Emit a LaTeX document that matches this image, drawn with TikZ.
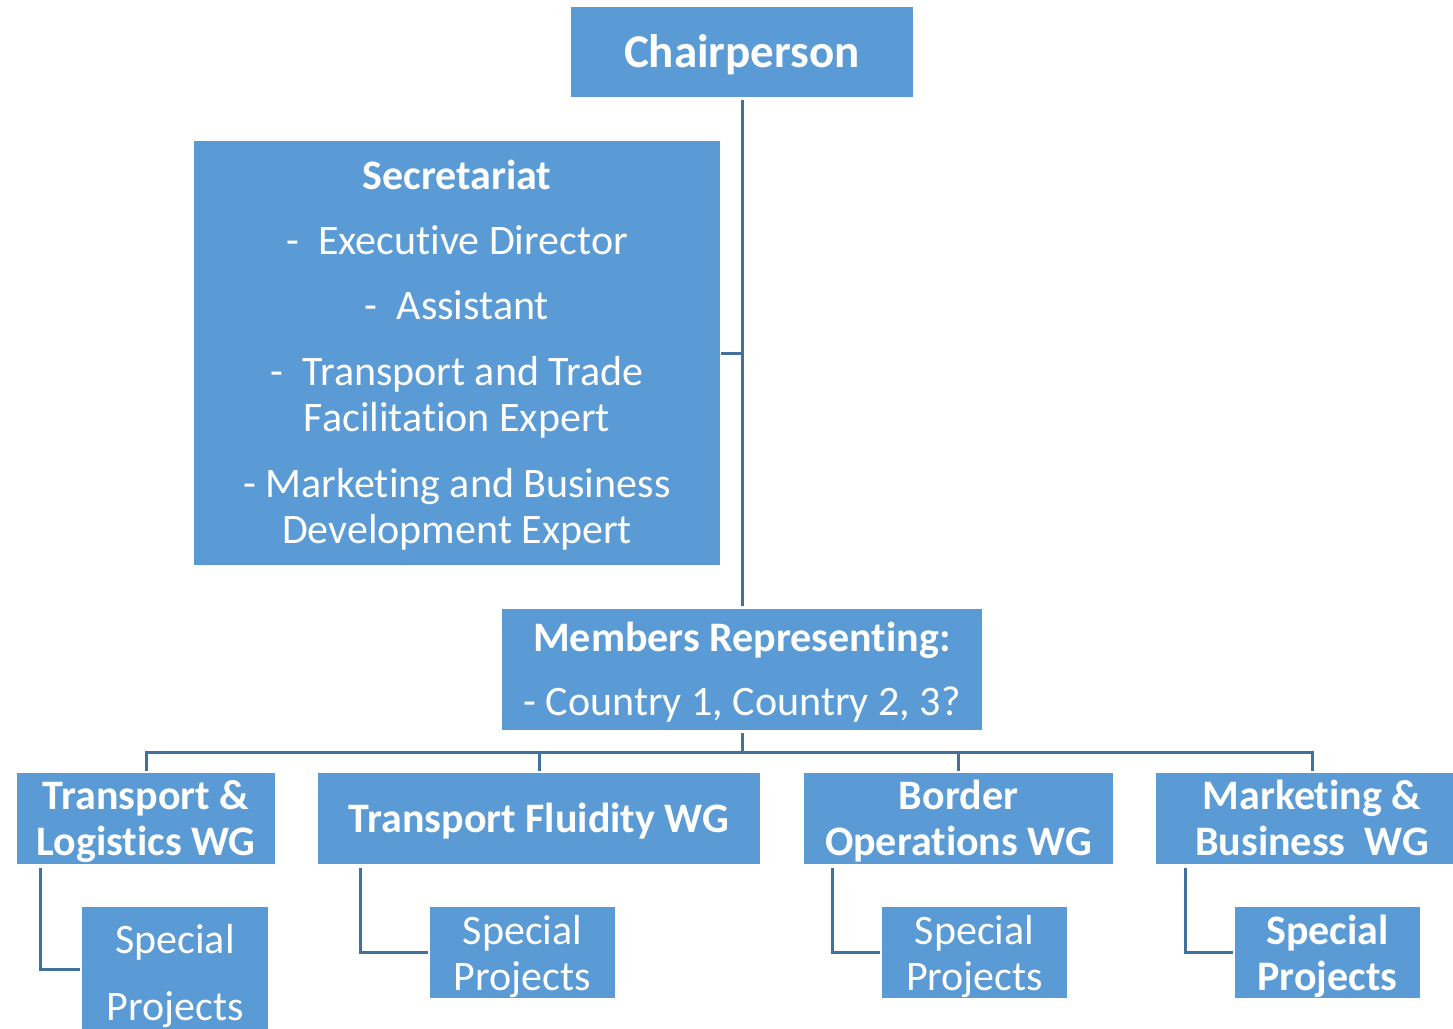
\documentclass[tikz,border=0pt]{standalone}
\usepackage{fontspec}
\setmainfont[RawFeature={-liga;-clig;-calt;-dlig}]{Carlito}
\definecolor{boxblue}{HTML}{5B9BD5}
\definecolor{lineblue}{HTML}{41719C}
% first baseline placed #1 pt above the node centre
\newcommand\boxtext[2]{\raisebox{#1pt}[0pt][0pt]{\begin{tabular}[t]{@{}c@{}}#2\end{tabular}}}
\newcommand\ti{t\kern0pt i}
\begin{document}
\begin{tikzpicture}[x=1pt,y=-1pt,
  box/.style={fill=boxblue,draw=none,text=white,inner sep=0pt,
    font=\fontsize{42}{46}\selectfont},
  bbox/.style={box,font=\fontsize{42}{46}\selectfont\bfseries},
  conn/.style={draw=lineblue,line width=3pt}]
\useasboundingbox (0,0) rectangle (1453,1028);
% top
\node[box,minimum width=342pt,minimum height=90pt,font=\fontsize{47}{52}\selectfont\bfseries] (chair) at (742,52) {\boxtext{-15.5}{Chairperson}};
\node[box,minimum width=526pt,minimum height=424pt] (sec) at (457,353)
  {\boxtext{163.8}{\textbf{Secretariat}\\[19pt]
   -\ \ Execu\ti ve Director\\[19pt]
   -\ \ Assistant\\[20pt]
   -\ \ Transport and Trade\\ Facilita\ti on Expert\\[20pt]
   - Marke\ti ng and Business\\ Development Expert}};
\node[box,minimum width=480pt,minimum height=121pt] (members) at (742,669.5)
  {\boxtext{18.3}{\textbf{Members Represen\ti ng:}\\[18pt]- Country 1, Country 2, 3?}};
% working groups
\node[bbox,minimum width=258pt,minimum height=91pt] (wg1) at (146,818.5) {\boxtext{9.5}{Transport \&\\Logis\ti cs WG}};
\node[bbox,minimum width=442pt,minimum height=91pt] (wg2) at (539,818.5) {\boxtext{-14}{Transport Fluidity WG}};
\node[bbox,minimum width=309pt,minimum height=91pt] (wg3) at (958.5,818.5) {\boxtext{9.5}{Border\\Opera\ti ons WG}};
\node[bbox,minimum width=312pt,minimum height=91pt] (wg4) at (1312,818.5) {\boxtext{9.5}{Marke\ti ng \&\\Business\ \ WG}};
% special projects
\node[box,minimum width=186pt,minimum height=134pt] (sp1) at (175,974) {\boxtext{20.8}{Special\\[21pt]Projects}};
\node[box,minimum width=185pt,minimum height=91pt] (sp2) at (522.5,952.5) {\boxtext{7.7}{Special\\Projects}};
\node[box,minimum width=185pt,minimum height=91pt] (sp3) at (974.5,952.5) {\boxtext{7.7}{Special\\Projects}};
\node[bbox,minimum width=185pt,minimum height=91pt] (sp4) at (1327.5,952.5) {\boxtext{7.7}{Special\\Projects}};
% connectors
\coordinate (bus) at (742,752);
\draw[conn] ([yshift=-3pt]chair.south) -- ([yshift=3pt]members.north);
\draw[conn] ([xshift=1pt]sec.east) -- (sec.east -| chair.south);
\draw[conn] ([yshift=-3pt]members.south) -- (bus);
\draw[conn] ([yshift=2pt]wg1.north) |- (bus) -| ([yshift=2pt]wg4.north);
\draw[conn] ([yshift=2pt]wg2.north) -- (wg2.north |- bus);
\draw[conn] ([yshift=2pt]wg3.north) -- (wg3.north |- bus);
\draw[conn] ([xshift=24pt,yshift=-4pt]wg1.south west) |- ([xshift=-2pt,yshift=5pt]sp1.west);
\draw[conn] ([xshift=43pt,yshift=-4pt]wg2.south west) |- ([xshift=-2pt]sp2.west);
\draw[conn] ([xshift=29pt,yshift=-4pt]wg3.south west) |- ([xshift=-2pt]sp3.west);
\draw[conn] ([xshift=30pt,yshift=-4pt]wg4.south west) |- ([xshift=-2pt]sp4.west);
\end{tikzpicture}
\end{document}
